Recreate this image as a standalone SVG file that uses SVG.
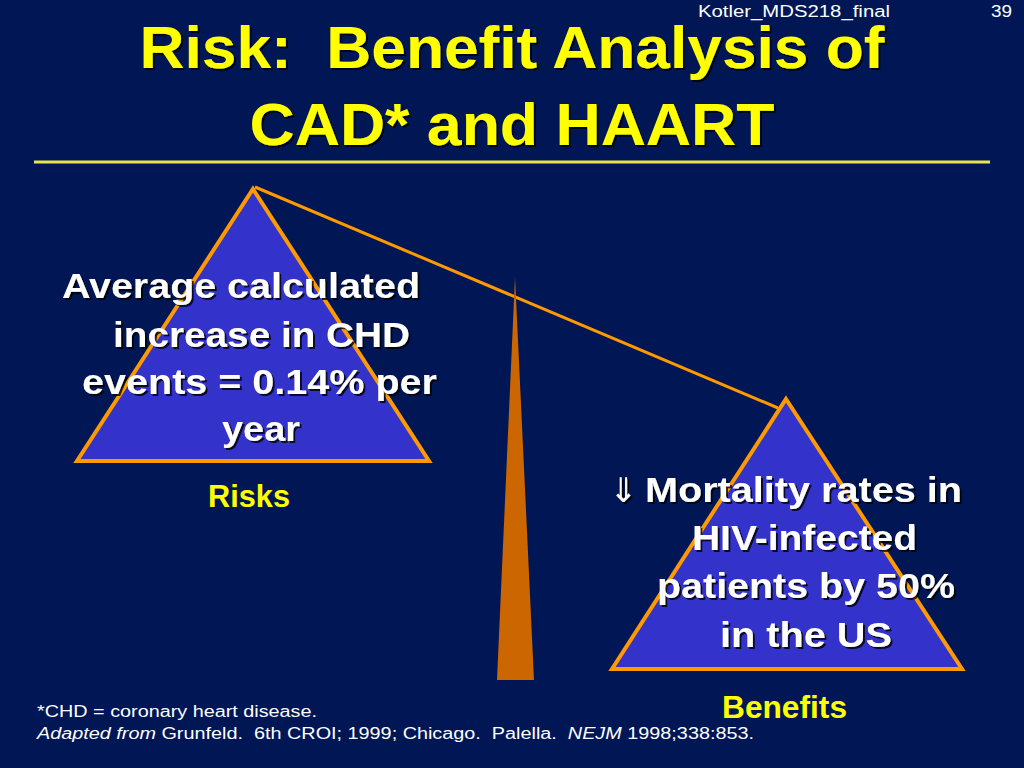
<svg xmlns="http://www.w3.org/2000/svg" width="1024" height="768" viewBox="0 0 1024 768">
<defs>
<style>
.bg{fill:#001655}
.tri{fill:#3333CC;stroke:#FF9900;stroke-width:4;stroke-linejoin:miter}
.beam{stroke:#FF9900;stroke-width:3;fill:none}
.fulcrum{fill:#CC6600}
.title{font-family:"Liberation Sans",Arial,sans-serif;font-weight:bold;fill:#FFFF00;font-size:60px;text-anchor:middle;white-space:pre}
.hdr{font-family:"Liberation Sans",Arial,sans-serif;fill:#FFFFFF;font-size:16px}
.body{font-family:"Liberation Sans",Arial,sans-serif;font-weight:bold;fill:#FFFFFF;font-size:35px}
.lbl{font-family:"Liberation Sans",Arial,sans-serif;font-weight:bold;fill:#FFFF00;font-size:32px}
.foot{font-family:"Liberation Sans",Arial,sans-serif;fill:#FFFFFF;font-size:16px;white-space:pre}
.sym{font-family:"DejaVu Sans",sans-serif;font-weight:normal;font-size:34px}
</style>
<filter id="sh" x="-5%" y="-20%" width="110%" height="140%">
<feDropShadow dx="2" dy="2" stdDeviation="0.6" flood-color="#000000" flood-opacity="0.8"/>
</filter>
</defs>
<rect class="bg" x="0" y="0" width="1024" height="768"/>
<g id="header">
<text class="hdr" x="698" y="17" textLength="192" lengthAdjust="spacingAndGlyphs">Kotler_MDS218_final</text>
<text class="hdr" x="991" y="17" textLength="21" lengthAdjust="spacingAndGlyphs">39</text>
</g>
<g id="title" filter="url(#sh)">
<text class="title" x="512" y="68" textLength="745" lengthAdjust="spacingAndGlyphs" xml:space="preserve">Risk:  Benefit Analysis of</text>
<text class="title" x="512" y="145" textLength="525" lengthAdjust="spacingAndGlyphs">CAD* and HAART</text>
</g>
<line x1="34" y1="162" x2="990" y2="162" stroke="#E6E64C" stroke-width="3"/>
<g id="connectors">
<line class="beam" x1="255" y1="187" x2="778" y2="408"/>
</g>
<g id="fulcrum">
<polygon class="fulcrum" points="515,277 534,680 497,680"/>
</g>
<g id="risks">
<polygon class="tri" points="253,189 429,461 77,461"/>
<g filter="url(#sh)">
<text class="body" x="62" y="298" textLength="358" lengthAdjust="spacingAndGlyphs">Average calculated</text>
<text class="body" x="113" y="347" textLength="297" lengthAdjust="spacingAndGlyphs">increase in CHD</text>
<text class="body" x="82" y="394" textLength="355" lengthAdjust="spacingAndGlyphs">events = 0.14% per</text>
<text class="body" x="222" y="441" textLength="78" lengthAdjust="spacingAndGlyphs">year</text>
</g>
<text class="lbl" x="208" y="507" textLength="82" lengthAdjust="spacingAndGlyphs">Risks</text>
</g>
<g id="benefits">
<polygon class="tri" points="786,399 962,669 612,669"/>
<g filter="url(#sh)">
<text class="body sym" x="609" y="502">⇓</text>
<text class="body" x="645" y="502" textLength="317" lengthAdjust="spacingAndGlyphs">Mortality rates in</text>
<text class="body" x="692" y="550" textLength="225" lengthAdjust="spacingAndGlyphs">HIV-infected</text>
<text class="body" x="657" y="598" textLength="298" lengthAdjust="spacingAndGlyphs">patients by 50%</text>
<text class="body" x="720" y="647" textLength="172" lengthAdjust="spacingAndGlyphs">in the US</text>
</g>
<text class="lbl" x="722" y="718" textLength="125" lengthAdjust="spacingAndGlyphs">Benefits</text>
</g>
<g id="footnote">
<text class="foot" x="37" y="717" textLength="280" lengthAdjust="spacingAndGlyphs">*CHD = coronary heart disease.</text>
<text class="foot" x="37" y="739" textLength="717" lengthAdjust="spacingAndGlyphs" xml:space="preserve"><tspan font-style="italic">Adapted from</tspan> Grunfeld.  6th CROI; 1999; Chicago.  Palella.  <tspan font-style="italic">NEJM</tspan> 1998;338:853.</text>
</g>
</svg>
